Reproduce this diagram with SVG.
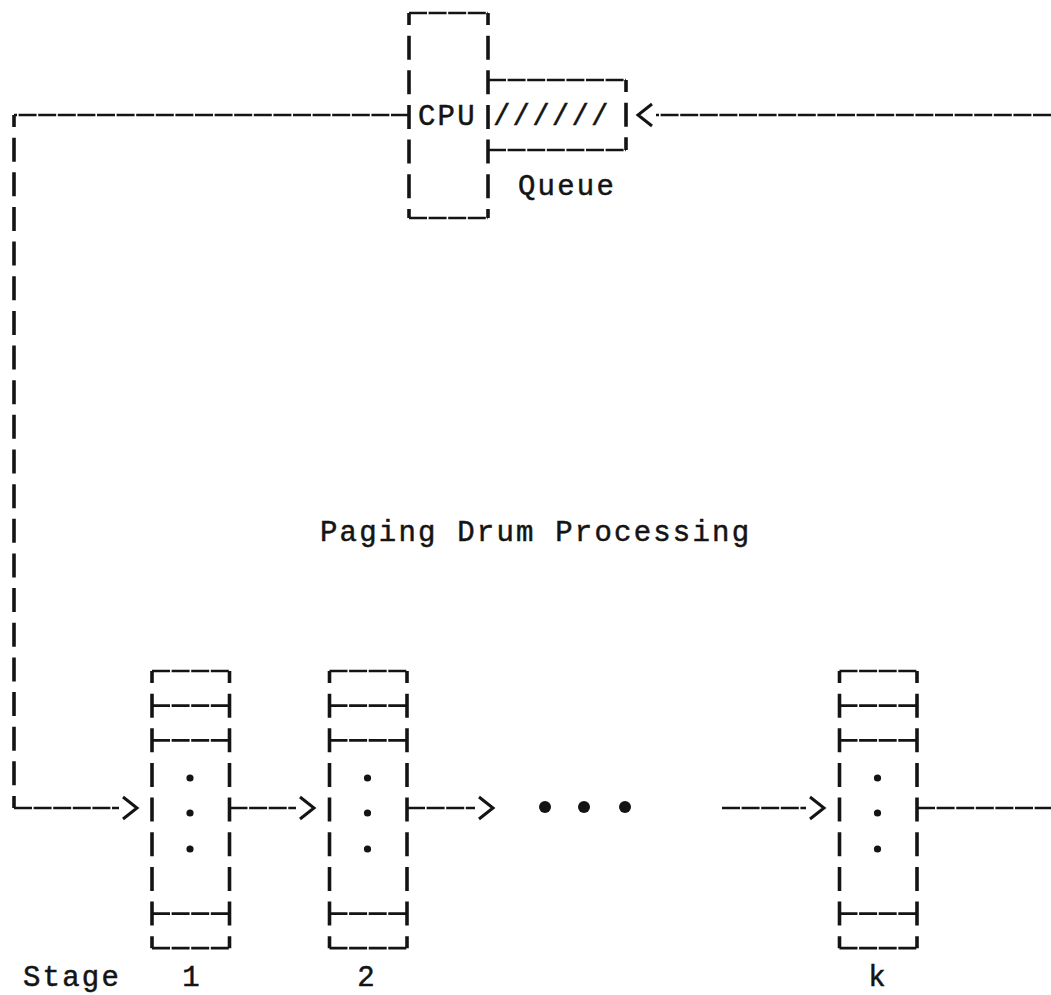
<svg xmlns="http://www.w3.org/2000/svg" width="1051" height="995" viewBox="0 0 1051 995">
  <style>
    .v { fill: none; stroke: #141414; stroke-width: 3.6; stroke-dasharray: 24 10.65; stroke-dashoffset: 12; }
    .h { fill: none; stroke: #141414; stroke-width: 2.7; stroke-dasharray: 18 1.6; }
    .t { font-family: "Liberation Mono", "DejaVu Sans Mono", monospace; font-size: 29px; fill: #141414; stroke: #141414; stroke-width: 0.5; letter-spacing: 2.2px; }
    .c { text-anchor: middle; letter-spacing: 0; }
    .dot { fill: #141414; }
  </style>
  <defs>
    <marker id="arr" markerUnits="userSpaceOnUse" markerWidth="30" markerHeight="30" refX="0" refY="0" orient="auto" overflow="visible">
      <path d="M4,-11 L18,0 L4,11" fill="none" stroke="#141414" stroke-width="3" stroke-linejoin="miter"/>
    </marker>
    <g id="stack">
      <path class="v" d="M0,0 V277.2"/>
      <path class="v" d="M77.5,0 V277.2"/>
      <path class="h" d="M0,0 H77.5"/>
      <path class="h" d="M0,34.65 H77.5"/>
      <path class="h" d="M0,69.3 H77.5"/>
      <path class="h" d="M0,242.55 H77.5"/>
      <path class="h" d="M0,277.2 H77.5"/>
      <circle class="dot" cx="38" cy="107" r="3.6"/>
      <circle class="dot" cx="38" cy="142" r="3.6"/>
      <circle class="dot" cx="38" cy="178" r="3.6"/>
    </g>
  </defs>
  <rect width="1051" height="995" fill="#ffffff"/>

  <g id="connectors">
    <path class="h" d="M409,115 H14"/>
    <path class="v" d="M14,115 V808"/>
    <path class="h" d="M14,808 H119" marker-end="url(#arr)"/>
    <path class="h" d="M229.5,808 H296" marker-end="url(#arr)"/>
    <path class="h" d="M407,808 H475" marker-end="url(#arr)"/>
    <path class="h" d="M722,808 H806" marker-end="url(#arr)"/>
    <path class="h" d="M917,808 H1051"/>
    <path class="h" d="M1051,115 H656" marker-end="url(#arr)"/>
  </g>

  <g id="cpu">
    <path class="v" d="M409,13 V218"/>
    <path class="v" d="M488,13 V218"/>
    <path class="h" d="M409,13 H488"/>
    <path class="h" d="M409,218 H488"/>
    <text class="t" x="418" y="125">CPU</text>
  </g>

  <g id="queue">
    <path class="h" d="M488,80 H626"/>
    <path class="h" d="M488,150 H626"/>
    <path class="v" d="M626,80 V150"/>
    <text class="t" x="493" y="125">//////</text>
    <text class="t" x="518" y="195">Queue</text>
  </g>

  <g id="title">
    <text class="t" x="320" y="541">Paging Drum Processing</text>
  </g>

  <g id="stage1">
    <use href="#stack" x="152" y="671"/>
    <text class="t c" x="191" y="986">1</text>
  </g>
  <g id="stage2">
    <use href="#stack" x="329.5" y="671"/>
    <text class="t c" x="366" y="986">2</text>
  </g>
  <g id="ellipsis">
    <circle class="dot" cx="545" cy="807" r="6"/>
    <circle class="dot" cx="584" cy="807" r="6"/>
    <circle class="dot" cx="625" cy="807" r="6"/>
  </g>
  <g id="stagek">
    <use href="#stack" x="839.5" y="671"/>
    <text class="t c" x="877" y="986">k</text>
  </g>
  <g id="stage-label">
    <text class="t" x="23" y="986">Stage</text>
  </g>
</svg>
